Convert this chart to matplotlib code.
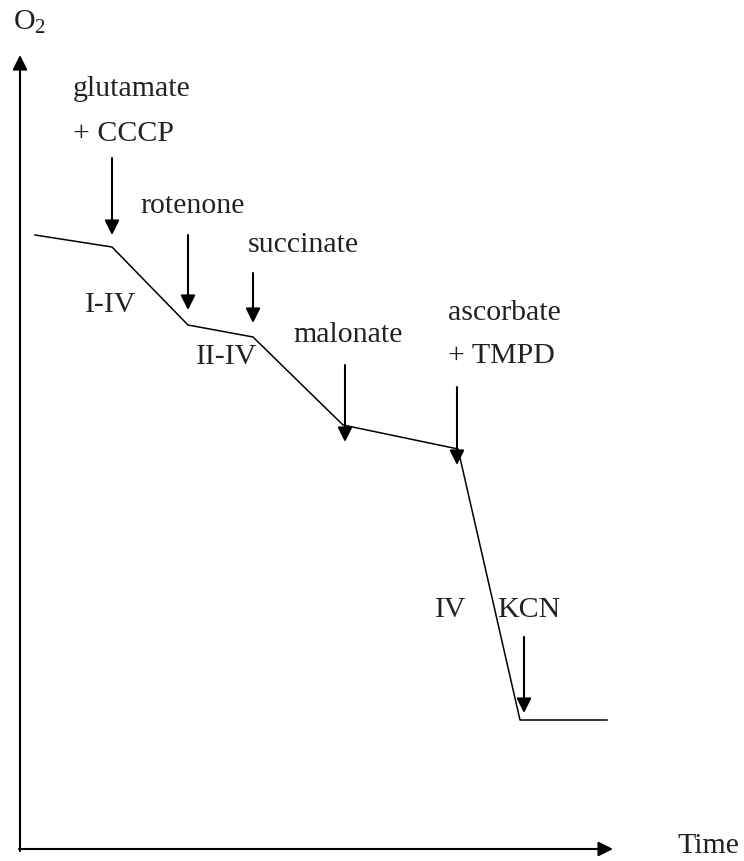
import matplotlib.pyplot as plt

plt.rcParams['font.family'] = ['Liberation Serif', 'DejaVu Serif']
plt.rcParams['mathtext.fontset'] = 'custom'
plt.rcParams['mathtext.rm'] = 'Liberation Serif'

# oxygen trace (time, O2), in figure pixel units
trace_t = [35, 112, 188, 253, 343, 458, 520, 607]
trace_o2 = [235, 247, 325, 337, 425, 449, 720, 720]

# additions: arrow x, arrow top, arrow tip
arrow_x = [112, 188, 253, 345, 457, 524]
arrow_top = [158, 235, 273, 365, 387, 637]
arrow_tip = [235, 310, 323, 442, 465, 713]

# every text line: label, left x, baseline y
labels = ["glutamate", "+ CCCP", "rotenone", "succinate", "malonate",
          "ascorbate", "+ TMPD", "KCN", "I-IV", "II-IV", "IV", "Time"]
label_x = [73, 73, 140, 248, 293, 448, 448, 497, 85, 196, 435, 677]
label_y = [96, 141, 213, 252, 342, 320, 363, 617, 312, 364, 617, 853]

fig = plt.figure(figsize=(7.44, 8.61), dpi=100)
ax = fig.add_axes([0, 0, 1, 1])
ax.set_xlim(0, 744)
ax.set_ylim(861, 0)
ax.axis('off')

ax.plot(trace_t, trace_o2, color='black', lw=1.1)

arrow_kw = dict(arrowstyle='-|>', color='black', lw=1.5, mutation_scale=22,
                shrinkA=0, shrinkB=0)
for x, y0, y1 in zip(arrow_x, arrow_top, arrow_tip):
    ax.annotate('', xy=(x, y1), xytext=(x, y0), arrowprops=arrow_kw)

for txt, x, y in zip(labels, label_x, label_y):
    ax.text(x, y, txt, ha='left', va='baseline', fontsize=21.5, color='#222222')

# axes with arrowheads
ax.annotate('', xy=(20, 55), xytext=(20, 851), arrowprops=arrow_kw)
ax.annotate('', xy=(613, 849), xytext=(19, 849), arrowprops=arrow_kw)
ax.text(13, 30, r'$\mathrm{O_2}$', ha='left', va='baseline', fontsize=21.5,
        color='#222222')

fig.savefig('out.png', dpi=100)
